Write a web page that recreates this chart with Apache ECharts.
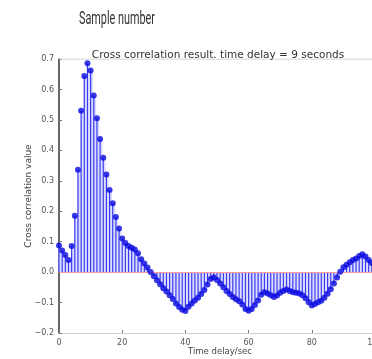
<!DOCTYPE html>
<html>
<head>
<meta charset="utf-8">
<script src="https://cdn.jsdelivr.net/npm/echarts@6/dist/echarts.min.js"></script>
<style>html,body{margin:0;padding:0;background:#fff}#c{width:372px;height:359px}</style>
</head>
<body>
<div id="c"></div>
<script>
var lags = [];
for (var i = 0; i <= 100; i++) lags.push(i);
var corrValues = [
  0.087, 0.071, 0.056, 0.040, 0.086, 0.185, 0.336, 0.530, 0.644, 0.686,
  0.662, 0.580, 0.505, 0.437, 0.376, 0.321, 0.270, 0.226, 0.181, 0.143,
  0.110, 0.096, 0.086, 0.080, 0.074, 0.062, 0.042, 0.028, 0.015, 0.000,
  -0.014, -0.027, -0.040, -0.053, -0.064, -0.076, -0.088, -0.103, -0.115, -0.124,
  -0.128, -0.114, -0.103, -0.093, -0.084, -0.072, -0.059, -0.041, -0.023, -0.018,
  -0.026, -0.037, -0.050, -0.062, -0.072, -0.082, -0.089, -0.096, -0.106, -0.121,
  -0.127, -0.121, -0.108, -0.093, -0.074, -0.066, -0.070, -0.076, -0.082, -0.077,
  -0.068, -0.062, -0.057, -0.062, -0.066, -0.068, -0.070, -0.076, -0.086, -0.099,
  -0.110, -0.105, -0.099, -0.094, -0.084, -0.071, -0.056, -0.037, -0.018, 0.001,
  0.016, 0.024, 0.032, 0.040, 0.045, 0.053, 0.059, 0.051, 0.040, 0.030,
  0.025
];
var yTicks = [-0.2, -0.1, 0.0, 0.1, 0.2, 0.3, 0.4, 0.5, 0.6, 0.7];
var xTicks = [0, 20, 40, 60, 80, 100];
var pageTitle = 'Sample number';
var chartTitle = 'Cross correlation result. time delay = 9 seconds';
var xName = 'Time delay/sec';
var yName = 'Cross correlation value';

var pts = lags.map(function (x, i) { return [x, corrValues[i]]; });

var titleFont = '19px Roboto, sans-serif';
var mctx = document.createElement('canvas').getContext('2d');
mctx.font = titleFont;
var titleScale = 76 / mctx.measureText(pageTitle).width;

var chart = echarts.init(document.getElementById('c'));
chart.setOption({
  animation: false,
  backgroundColor: '#fff',
  title: [
    { text: chartTitle, left: 213, top: 45, textAlign: 'center',
      textStyle: { fontFamily: 'DejaVu Sans', fontSize: 10.5, fontWeight: 'normal', color: '#333' } }
  ],
  graphic: [
    { type: 'text', left: 79, top: 10, scaleX: titleScale, originX: 0,
      style: { text: pageTitle, font: titleFont, fill: '#333' } }
  ],
  grid: { left: 59, right: -3, top: 59, bottom: 26, outerBoundsMode: 'none', containLabel: false },
  xAxis: {
    type: 'value', min: 0, max: 100, interval: 20,
    name: xName, nameLocation: 'middle', nameGap: 14, nameMoveOverlap: false,
    nameTextStyle: { fontFamily: 'DejaVu Sans', fontSize: 8.5, color: '#444', padding: [0, 0, 0, 6] },
    axisLine: { show: true, onZero: false, lineStyle: { color: '#cfcfcf', width: 1 } },
    axisTick: { show: true, inside: true, length: 3, lineStyle: { color: '#777' } },
    axisLabel: { fontFamily: 'DejaVu Sans', fontSize: 8, color: '#555', margin: 6,
      formatter: function (v) { return xTicks.indexOf(v) >= 0 ? String(v) : ''; } },
    splitLine: { show: false }
  },
  yAxis: {
    type: 'value', min: -0.2, max: 0.7, interval: 0.1,
    name: yName, nameLocation: 'middle', nameGap: 26, nameMoveOverlap: false,
    nameTextStyle: { fontFamily: 'DejaVu Sans', fontSize: 9, color: '#444' },
    axisLine: { show: true, lineStyle: { color: '#333', width: 1.5 } },
    axisTick: { show: true, inside: true, length: 3, lineStyle: { color: '#777' } },
    axisLabel: { fontFamily: 'DejaVu Sans', fontSize: 8, color: '#555', margin: 5,
      formatter: function (v) {
        var r = Math.round(v * 10) / 10;
        return (r < 0 ? '\u2212' : '') + Math.abs(r).toFixed(1);
      } },
    splitLine: { show: false }
  },
  series: [
    { type: 'bar', data: pts, barWidth: 3, itemStyle: { color: '#dcdcfb' }, silent: true, z: 1 },
    { type: 'bar', data: pts, barWidth: 1.2, barGap: '-100%', itemStyle: { color: '#3a3af5' }, silent: true, z: 2,
      markLine: { silent: true, symbol: 'none', label: { show: false },
        lineStyle: { color: '#ff9c9c', width: 1, type: 'solid' }, data: [{ yAxis: 0 }] } },
    { type: 'line', data: [[0, 0.7], [100, 0.7]], symbol: 'none', lineStyle: { color: '#c8c8c8', width: 1 }, silent: true, z: 1 },
    { type: 'scatter', data: pts, symbol: 'circle', symbolSize: 6, itemStyle: { color: '#0808e0' }, z: 5 }
  ]
});
</script>
</body>
</html>
